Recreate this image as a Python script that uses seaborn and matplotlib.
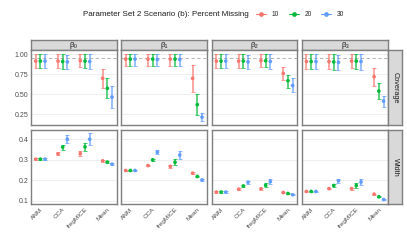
import numpy as np
import pandas as pd
import seaborn as sns
import matplotlib.pyplot as plt
from matplotlib.lines import Line2D

# --- data ---
methods = ['ANM', 'CCA', 'fregMICE', 'Mean']
pct_missing = ['10', '20', '30']
params = ['b0', 'b1', 'b2', 'b3']
param_labels = ['β₀', 'β₁', 'β₂', 'β₃']

# values listed per method (ANM, CCA, fregMICE, Mean), each with 10 / 20 / 30 %
cov_est = {
    'b0': [0.915, 0.915, 0.915, 0.915, 0.91, 0.905, 0.92, 0.915, 0.91, 0.70, 0.575, 0.465],
    'b1': [0.94, 0.94, 0.94, 0.94, 0.94, 0.935, 0.94, 0.94, 0.935, 0.70, 0.37, 0.215],
    'b2': [0.915, 0.915, 0.915, 0.915, 0.915, 0.905, 0.92, 0.92, 0.91, 0.76, 0.67, 0.61],
    'b3': [0.91, 0.91, 0.91, 0.91, 0.905, 0.90, 0.915, 0.915, 0.91, 0.72, 0.54, 0.415],
}
cov_lo = {
    'b0': [0.83, 0.83, 0.83, 0.83, 0.82, 0.815, 0.84, 0.83, 0.82, 0.58, 0.45, 0.33],
    'b1': [0.86, 0.86, 0.86, 0.86, 0.86, 0.85, 0.86, 0.86, 0.85, 0.53, 0.24, 0.16],
    'b2': [0.83, 0.83, 0.83, 0.83, 0.83, 0.82, 0.84, 0.84, 0.82, 0.68, 0.575, 0.525],
    'b3': [0.82, 0.82, 0.82, 0.82, 0.81, 0.80, 0.83, 0.82, 0.81, 0.61, 0.44, 0.345],
}
cov_hi = {
    'b0': [1.0, 1.0, 1.0, 1.0, 1.0, 0.995, 1.0, 1.0, 1.0, 0.82, 0.70, 0.60],
    'b1': [1.0, 1.0, 1.0, 1.0, 1.0, 1.0, 1.0, 1.0, 1.0, 0.865, 0.50, 0.26],
    'b2': [1.0, 1.0, 1.0, 1.0, 1.0, 0.995, 1.0, 1.0, 1.0, 0.845, 0.74, 0.70],
    'b3': [1.0, 1.0, 1.0, 1.0, 1.0, 0.99, 1.0, 1.0, 1.0, 0.825, 0.64, 0.48],
}
wid_est = {
    'b0': [0.303, 0.303, 0.303, 0.329, 0.362, 0.40, 0.33, 0.363, 0.40, 0.295, 0.289, 0.279],
    'b1': [0.248, 0.248, 0.248, 0.272, 0.300, 0.337, 0.268, 0.288, 0.323, 0.235, 0.219, 0.202],
    'b2': [0.143, 0.143, 0.143, 0.157, 0.173, 0.191, 0.159, 0.176, 0.194, 0.141, 0.136, 0.130],
    'b3': [0.146, 0.146, 0.146, 0.160, 0.175, 0.198, 0.160, 0.175, 0.192, 0.133, 0.120, 0.107],
}
wid_err = {
    'b0': [0.004, 0.004, 0.004, 0.008, 0.012, 0.020, 0.012, 0.020, 0.028, 0.006, 0.005, 0.006],
    'b1': [0.003, 0.003, 0.003, 0.004, 0.006, 0.010, 0.006, 0.014, 0.018, 0.004, 0.004, 0.003],
    'b2': [0.003, 0.003, 0.003, 0.004, 0.005, 0.007, 0.005, 0.009, 0.012, 0.003, 0.003, 0.003],
    'b3': [0.003, 0.003, 0.003, 0.004, 0.006, 0.010, 0.005, 0.010, 0.014, 0.003, 0.003, 0.003],
}

palette = {'10': '#F8766D', '20': '#00BA38', '30': '#619CFF'}


def build_frame():
    rows = []
    for p in params:
        for i, m in enumerate(methods):
            for j, pc in enumerate(pct_missing):
                k = i * 3 + j
                x = i + (j - 1) * 0.21
                rows.append(dict(param=p, method=m, pct=pc, metric='Coverage', x=x,
                                 est=cov_est[p][k], lo=cov_lo[p][k], hi=cov_hi[p][k]))
                rows.append(dict(param=p, method=m, pct=pc, metric='Width', x=x,
                                 est=wid_est[p][k], lo=wid_est[p][k] - wid_err[p][k],
                                 hi=wid_est[p][k] + wid_err[p][k]))
    return pd.DataFrame(rows)


df = build_frame()

sns.set_theme(style="white")
plt.rcParams['font.family'] = ['Liberation Sans', 'DejaVu Sans']

W, H = 407, 244
fig = plt.figure(figsize=(W / 100, H / 100), dpi=100)


def px_axes(x0, y0, x1, y1):
    # pixel box (top-left origin) -> figure axes
    return fig.add_axes([x0 / W, 1 - y1 / H, (x1 - x0) / W, (y1 - y0) / H])


cols = [(31, 116.7), (121, 206.7), (211.7, 297.3), (301.7, 388.3)]
rows_px = {'Coverage': (50, 125), 'Width': (130, 204)}
ylims = {'Coverage': (0.116, 1.054), 'Width': (0.085, 0.445)}
yticks = {'Coverage': [0.25, 0.50, 0.75, 1.00], 'Width': [0.1, 0.2, 0.3, 0.4]}
ytick_fmt = {'Coverage': '{:.2f}', 'Width': '{:.1f}'}
border = '#7F7F7F'
strip_fill = '#D9D9D9'


def style_strip(ax):
    ax.set_facecolor(strip_fill)
    ax.set_xticks([])
    ax.set_yticks([])
    for s in ax.spines.values():
        s.set_color(border)
        s.set_linewidth(1.0)


for c, (p, lab) in enumerate(zip(params, param_labels)):
    x0, x1 = cols[c]
    sax = px_axes(x0, 40, x1, 50)
    style_strip(sax)
    sax.text(0.5, 0.45, lab, ha='center', va='center', fontsize=5.8, color='#1A1A1A',
             transform=sax.transAxes)

    for metric, (y0, y1) in rows_px.items():
        ax = px_axes(x0, y0, x1, y1)
        sub = df[(df.param == p) & (df.metric == metric)]
        ax.set_axisbelow(True)
        ax.yaxis.grid(True, color='#EBEBEB', linewidth=0.6)
        if metric == 'Coverage':
            ax.axhline(0.95, color='#A6A6A6', linestyle=(0, (4, 3)), linewidth=0.6, zorder=1)
        for pc in pct_missing:
            s = sub[sub.pct == pc]
            ax.errorbar(s.x, s.est, yerr=[s.est - s.lo, s.hi - s.est], fmt='none',
                        ecolor=palette[pc], elinewidth=1.2, capsize=1.4, capthick=0.7,
                        alpha=0.75, zorder=2)
        sns.scatterplot(data=sub, x='x', y='est', hue='pct', palette=palette,
                        hue_order=pct_missing, marker='o', s=7, linewidth=0,
                        legend=False, ax=ax, zorder=3)
        ax.set_xlim(-0.42, 3.42)
        ax.set_ylim(*ylims[metric])
        ax.set_xlabel('')
        ax.set_ylabel('')
        ax.set_xticks(range(len(methods)))
        if metric == 'Width':
            ax.set_xticklabels(methods, rotation=45, ha='right', rotation_mode='anchor',
                               fontsize=4.6, color='#4D4D4D')
        else:
            ax.set_xticklabels([])
        ax.set_yticks(yticks[metric])
        if c == 0:
            ax.set_yticklabels([ytick_fmt[metric].format(v) for v in yticks[metric]],
                               fontsize=5, color='#4D4D4D')
        else:
            ax.set_yticklabels([])
        ax.tick_params(length=0, pad=2)
        for s_ in ax.spines.values():
            s_.set_color(border)
            s_.set_linewidth(1.0)

        if c == len(params) - 1:
            rax = px_axes(388.3, y0, 402.3, y1)
            style_strip(rax)
            rax.text(0.5, 0.5, metric, ha='center', va='center', rotation=-90,
                     fontsize=5.3, color='#1A1A1A', transform=rax.transAxes)

# legend across the top
fig.text(166 / W, 1 - 14.7 / H, 'Parameter Set 2 Scenario (b): Percent Missing',
         ha='center', va='center', fontsize=5.8, color='#1A1A1A')
handles = [Line2D([0], [0], color=palette[pc], marker='o', markersize=2.4, linewidth=0.8)
           for pc in pct_missing]
fig.legend(handles, pct_missing, loc='center left', bbox_to_anchor=(256 / W, 1 - 14.7 / H),
           ncol=3, frameon=False, fontsize=4.8, handlelength=1.5, handletextpad=0.9,
           columnspacing=1.4, borderaxespad=0, borderpad=0)

fig.savefig('out.png', dpi=100)
